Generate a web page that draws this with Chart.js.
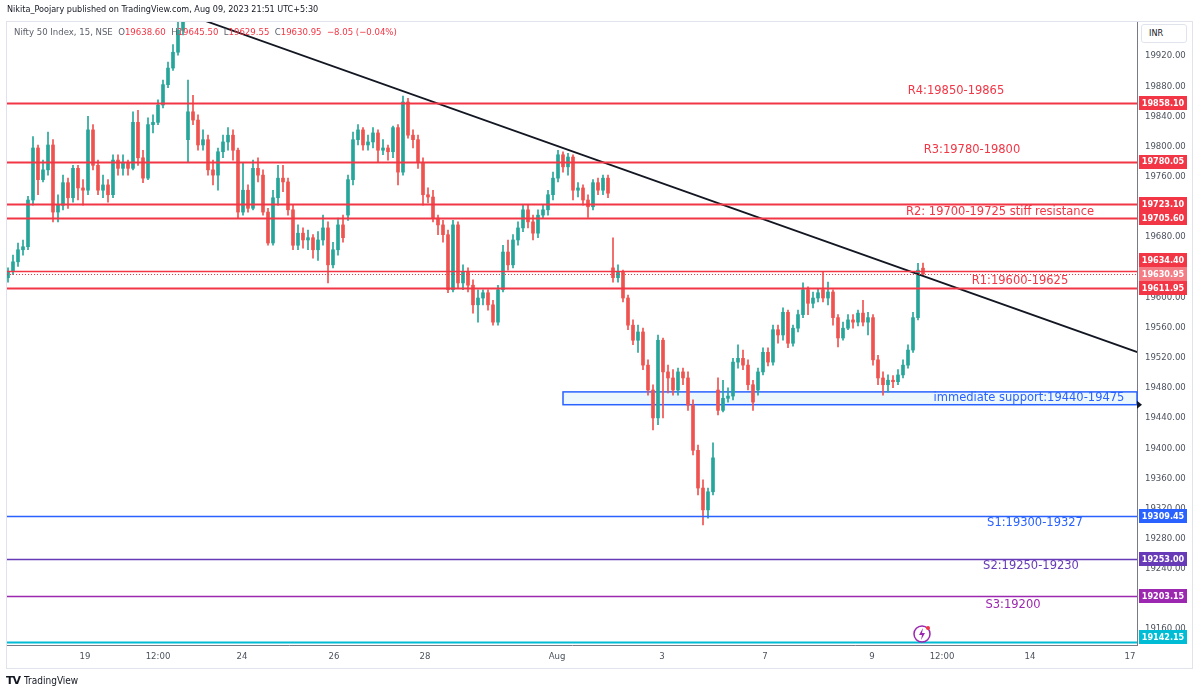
<!DOCTYPE html>
<html>
<head>
<meta charset="utf-8">
<script src="https://cdn.jsdelivr.net/npm/chart.js@4.4.0/dist/chart.umd.min.js"></script>
<style>
html, body { margin: 0; padding: 0; background: #fff; }
#wrap { position: relative; width: 1200px; height: 694px; overflow: hidden; font-family: 'DejaVu Sans Condensed', 'Liberation Sans', sans-serif; }
#frame { position: absolute; left: 6px; top: 21px; width: 1187px; height: 648px; border: 1px solid #e0e3eb; box-sizing: border-box; }
canvas { position: absolute; left: 0; top: 0; }
#pub { position: absolute; left: 7px; top: 4px; font-size: 9px; color: #131722; white-space: nowrap; }
#legend { position: absolute; left: 14px; top: 26px; font-size: 9.5px; color: #5d606b; white-space: nowrap; }
#legend .v { color: #f23645; }
#inr { position: absolute; left: 1141px; top: 24px; width: 46px; height: 19px; border: 1px solid #e0e3eb; border-radius: 3px; box-sizing: border-box; font-size: 9px; color: #131722; line-height: 17px; padding-left: 7px; background: #fff; }
#foot { position: absolute; left: 6px; top: 674px; font-size: 10px; color: #131722; white-space: nowrap; }
#foot b { font-family: 'DejaVu Sans', sans-serif; font-size: 11px; letter-spacing: -1px; margin-right: 4px; }
#bolt { position: absolute; left: 912px; top: 623px; }
</style>
</head>
<body>
<div id="wrap">
  <div id="frame"></div>
  <canvas id="chart" width="1200" height="694"></canvas>
  <div id="pub">Nikita_Poojary published on TradingView.com, Aug 09, 2023 21:51 UTC+5:30</div>
  <div id="legend">Nifty 50 Index, 15, NSE &nbsp;O<span class="v">19638.60</span> &nbsp;H<span class="v">19645.50</span> &nbsp;L<span class="v">19629.55</span> &nbsp;C<span class="v">19630.95</span> &nbsp;<span class="v">−8.05 (−0.04%)</span></div>
  <div id="inr">INR</div>
  <svg id="bolt" width="22" height="22" viewBox="0 0 22 22">
    <circle cx="10" cy="11" r="8" fill="none" stroke="#9c27b0" stroke-width="1.5"/>
    <path d="M11 5 L7 12 L10 12 L9 17 L13 10 L10 10 Z" fill="#9c27b0"/>
    <circle cx="16" cy="5" r="2" fill="#f23645"/>
  </svg>
  <div id="foot"><b>TV</b>TradingView</div>
</div>
<script>
// === ДАННЫЕ: свечи Nifty 50, 15 мин (по одной свече на ~5 px исходника) ===
const opens = [
  19626,19634,19647,19663,19667,19729,19798,19756,19769,19802,19713,19722,19752,19732,19771,19745,
  19742,19822,19775,19742,19749,19736,19782,19771,19779,19771,19832,19785,19758,19829,19832,19855,
  19882,19904,19925,19954,19809,19846,19835,19802,19809,19769,19762,19793,19806,19815,19795,19713,
  19742,19718,19771,19762,19713,19672,19732,19758,19753,19716,19669,19685,19676,19679,19663,19676,
  19692,19643,19663,19696,19709,19756,19809,19822,19802,19806,19818,19795,19798,19793,19825,19766,
  19859,19815,19809,19779,19736,19733,19705,19696,19683,19610,19696,19619,19634,19616,19590,19599,
  19606,19590,19567,19610,19660,19643,19676,19692,19716,19700,19685,19709,19716,19736,19758,19789,
  19773,19786,19742,19745,19729,19720,19752,19742,19758,19639,19626,19634,19599,19563,19543,19554,
  19510,19477,19440,19543,19501,19493,19477,19501,19493,19457,19397,19347,19318,19342,19477,19450,
  19466,19469,19514,19519,19510,19484,19477,19501,19527,19514,19557,19550,19580,19539,19559,19577,
  19610,19592,19599,19610,19599,19607,19573,19546,19559,19570,19567,19579,19567,19573,19517,19493,
  19484,19490,19488,19497,19510,19530,19573,19638.60
];
const highs = [
  19639,19656,19672,19676,19734,19813,19802,19782,19819,19809,19736,19762,19758,19775,19775,19756,
  19840,19829,19782,19762,19756,19789,19789,19789,19782,19846,19848,19795,19838,19842,19862,19888,
  19912,19935,19965,19990,19888,19868,19842,19822,19815,19782,19798,19815,19825,19822,19798,19779,
  19749,19782,19785,19769,19718,19742,19775,19775,19758,19722,19696,19692,19689,19683,19687,19709,
  19700,19673,19705,19709,19762,19819,19829,19825,19815,19825,19822,19809,19802,19827,19829,19867,
  19864,19822,19815,19785,19745,19742,19709,19702,19689,19702,19700,19643,19639,19623,19610,19610,
  19610,19596,19616,19669,19676,19683,19700,19722,19722,19709,19716,19722,19742,19766,19795,19793,
  19791,19789,19752,19749,19736,19756,19758,19762,19762,19679,19643,19636,19603,19570,19563,19559,
  19517,19484,19550,19546,19510,19504,19506,19506,19501,19464,19404,19358,19347,19407,19493,19490,
  19480,19519,19537,19530,19517,19490,19506,19533,19533,19563,19563,19586,19583,19563,19583,19619,
  19614,19607,19612,19634.40,19620,19610,19577,19567,19577,19577,19583,19596,19580,19577,19523,19501,
  19497,19496,19504,19517,19537,19580,19645,19645.50
];
const lows = [
  19620,19630,19641,19656,19663,19722,19736,19753,19762,19700,19700,19716,19718,19726,19729,19722,
  19736,19769,19736,19732,19726,19732,19762,19762,19762,19769,19775,19752,19756,19818,19829,19851,
  19878,19901,19921,19948,19779,19829,19795,19795,19762,19749,19742,19785,19795,19782,19705,19709,
  19713,19716,19753,19709,19669,19669,19722,19740,19709,19663,19663,19665,19663,19652,19649,19669,
  19619,19639,19656,19673,19702,19749,19802,19795,19795,19798,19779,19789,19782,19785,19749,19762,
  19811,19798,19771,19722,19725,19700,19683,19673,19606,19607,19612,19610,19607,19579,19567,19590,
  19583,19563,19563,19607,19636,19639,19669,19687,19692,19676,19679,19705,19709,19729,19753,19766,
  19762,19729,19733,19722,19706,19716,19736,19736,19732,19620,19620,19594,19557,19537,19527,19504,
  19470,19424,19431,19440,19473,19470,19470,19484,19450,19391,19338,19298,19307,19338,19444,19448,
  19461,19464,19506,19504,19477,19450,19470,19497,19509,19510,19539,19543,19533,19535,19554,19573,
  19577,19586,19594,19594,19590,19563,19534,19543,19557,19559,19562,19562,19550,19510,19484,19470,
  19474,19480,19484,19493,19506,19527,19570,19629.55
];
const closes = [
  19634,19647,19663,19667,19729,19798,19756,19769,19802,19713,19722,19752,19732,19771,19745,19742,
  19822,19775,19742,19749,19736,19782,19771,19779,19771,19832,19785,19758,19829,19832,19855,19882,
  19904,19925,19954,19968,19846,19835,19802,19809,19769,19762,19793,19806,19815,19795,19713,19742,
  19718,19771,19762,19713,19672,19732,19758,19753,19716,19669,19685,19676,19679,19663,19676,19692,
  19643,19663,19696,19679,19756,19809,19822,19802,19806,19818,19795,19798,19793,19825,19766,19859,
  19815,19809,19779,19736,19733,19705,19696,19683,19610,19696,19619,19634,19616,19590,19599,19606,
  19590,19567,19610,19660,19643,19676,19692,19716,19700,19685,19709,19716,19736,19758,19789,19773,
  19786,19742,19745,19729,19720,19752,19742,19758,19738,19626,19634,19599,19563,19543,19554,19510,
  19477,19440,19543,19501,19493,19477,19501,19493,19457,19397,19347,19318,19342,19387,19450,19466,
  19469,19514,19519,19510,19484,19461,19501,19527,19514,19557,19550,19580,19539,19559,19577,19610,
  19592,19599,19606,19599,19607,19573,19546,19559,19570,19567,19579,19567,19573,19517,19493,19484,
  19490,19488,19497,19510,19530,19573,19636,19630.95
];

// подписи оси X (позиция в номерах свечей) и шкала цен
const xTickPos = [15.4, 30, 46.8, 65.2, 83.4, 109.8, 130.8, 151.4, 172.8, 186.8, 204.4, 224.4];
const xTickLabels = ['19', '12:00', '24', '26', '28', 'Aug', '3', '7', '9', '12:00', '14', '17'];
const yTicks = [19160, 19200, 19240, 19280, 19320, 19360, 19400, 19440, 19480, 19520, 19560, 19600,
                19640, 19680, 19720, 19760, 19800, 19840, 19880, 19920];

// уровни, нарисованные автором
const levelPrices = [19858.10, 19780.05, 19723.10, 19705.60, 19634.40, 19611.95, 19309.45, 19253.00, 19203.15, 19142.15];
const lastPrice = 19630.95;
const trendLine = [{ x: 38, y: 19970 }, { x: 226, y: 19527 }];
const supportFrom = 111, supportTop = 19474.5, supportBottom = 19457.5;

const zoneLabels = ['R4:19850-19865', 'R3:19780-19800', 'R2: 19700-19725 stiff resistance', 'R1:19600-19625',
                    'immediate support:19440-19475', 'S1:19300-19327', 'S2:19250-19230', 'S3:19200'];
const zoneAt = [189.6, 192.8, 198.4, 202.4, 204.2, 205.4, 204.6, 201];
const zonePrice = [19873.6, 19795.4, 19713.1, 19621.6, 19466.4, 19300.6, 19243.6, 19192.0];

// === СТИЛИ ===
const GREEN = '#26a69a';
const RED = '#ef5350';
const LVL_RED = '#f23645';
const BLUE = '#2962ff';
const levelColors = [LVL_RED, LVL_RED, LVL_RED, LVL_RED, LVL_RED, LVL_RED, BLUE, '#673ab7', '#9c27b0', '#00bcd4'];
const levelWidths = [2, 2, 2, 2, 1.5, 2, 1.5, 1.5, 1.5, 2];
const zoneColors = [LVL_RED, LVL_RED, LVL_RED, LVL_RED, BLUE, BLUE, '#673ab7', '#9c27b0'];
const AXIS_FONT = "'DejaVu Sans Condensed', 'Liberation Sans', sans-serif";

const candleColor = ctx => (ctx.dataIndex === undefined ? GREEN :
  (closes[ctx.dataIndex] >= opens[ctx.dataIndex] ? GREEN : RED));
const idx = closes.map((_, i) => i);

// === РИСОВАНИЕ УРОВНЕЙ, ЗОНЫ, ПОДПИСЕЙ И ПЛАШЕК ===
const overlay = {
  id: 'overlay',
  beforeDatasetsDraw(chart) {
    const { ctx, chartArea: a, scales: { x, y } } = chart;
    const x0 = x.getPixelForValue(supportFrom);
    const y0 = y.getPixelForValue(supportTop);
    const y1 = y.getPixelForValue(supportBottom);
    ctx.save();
    ctx.fillStyle = 'rgba(0,160,230,0.07)';
    ctx.fillRect(x0, y0, a.right - x0, y1 - y0);
    ctx.strokeStyle = BLUE;
    ctx.lineWidth = 1.5;
    ctx.strokeRect(x0, y0, a.right - x0, y1 - y0);
    ctx.restore();
  },
  afterDatasetsDraw(chart) {
    const { ctx, chartArea: a, scales: { x, y } } = chart;
    ctx.save();
    levelPrices.forEach((p, i) => {
      const py = Math.round(y.getPixelForValue(p)) + 0.5;
      ctx.strokeStyle = levelColors[i];
      ctx.lineWidth = levelWidths[i];
      ctx.beginPath();
      ctx.moveTo(a.left, py);
      ctx.lineTo(a.right, py);
      ctx.stroke();
    });
    // линия текущей цены
    const cy = Math.round(y.getPixelForValue(lastPrice)) + 0.5;
    ctx.strokeStyle = LVL_RED;
    ctx.lineWidth = 1;
    ctx.setLineDash([1, 2]);
    ctx.beginPath();
    ctx.moveTo(a.left, cy);
    ctx.lineTo(a.right, cy);
    ctx.stroke();
    ctx.setLineDash([]);

    ctx.font = "11.5px 'DejaVu Sans', sans-serif";
    ctx.textAlign = 'center';
    ctx.textBaseline = 'middle';
    zoneLabels.forEach((t, i) => {
      ctx.fillStyle = zoneColors[i];
      ctx.fillText(t, x.getPixelForValue(zoneAt[i]), y.getPixelForValue(zonePrice[i]));
    });
    ctx.restore();
  },
  afterDraw(chart) {
    const { ctx, chartArea: a, scales: { y } } = chart;
    const left = a.right + 2, w = 48, h = 14;
    const badges = [{ p: lastPrice, c: '#f47c84' }].concat(levelPrices.map((p, i) => ({ p, c: levelColors[i] })));
    const placed = [];
    badges.forEach(b => {
      let py = y.getPixelForValue(b.p);
      py = Math.min(Math.max(py, a.top + h / 2), a.bottom - h / 2 - 1);
      placed.forEach(q => {
        if (Math.abs(py - q) < h) py = py < q ? q - h : q + h;
      });
      placed.push(py);
      b.y = py;
    });
    ctx.save();
    ctx.font = "bold 9px " + AXIS_FONT;
    ctx.textAlign = 'center';
    ctx.textBaseline = 'middle';
    badges.slice().reverse().forEach(b => {
      ctx.fillStyle = b.c;
      ctx.fillRect(left, Math.round(b.y - h / 2), w, h);
      ctx.fillStyle = '#fff';
      ctx.fillText(b.p.toFixed(2), left + w / 2, b.y + 0.5);
    });
    // маркер нижней границы зоны поддержки
    const ty = y.getPixelForValue(supportBottom);
    ctx.fillStyle = '#131722';
    ctx.beginPath();
    ctx.moveTo(a.right, ty - 4);
    ctx.lineTo(a.right + 5, ty);
    ctx.lineTo(a.right, ty + 4);
    ctx.closePath();
    ctx.fill();
    ctx.restore();
  }
};

// === ГРАФИК ===
new Chart(document.getElementById('chart'), {
  type: 'bar',
  data: {
    datasets: [
      {
        label: 'trend',
        type: 'line',
        data: trendLine,
        borderColor: '#131722',
        borderWidth: 1.8,
        pointRadius: 0,
        order: 0
      },
      {
        label: 'body',
        data: idx.map(i => ({ x: i, y: [Math.min(opens[i], closes[i]), Math.max(opens[i], closes[i])] })),
        backgroundColor: candleColor,
        barThickness: 3,
        minBarLength: 1,
        grouped: false,
        order: 1
      },
      {
        label: 'wick',
        data: idx.map(i => ({ x: i, y: [lows[i], highs[i]] })),
        backgroundColor: candleColor,
        barThickness: 1,
        grouped: false,
        order: 2
      }
    ]
  },
  options: {
    responsive: false,
    animation: false,
    layout: { padding: { left: 7, top: 22, right: 8, bottom: 26 } },
    plugins: { legend: { display: false }, tooltip: { enabled: false } },
    scales: {
      x: {
        type: 'linear',
        min: -0.2,
        max: 225.8,
        offset: false,
        grid: { display: false, offset: false, tickLength: 0 },
        border: { display: true, color: '#787b86' },
        afterBuildTicks: s => { s.ticks = xTickPos.map(v => ({ value: v })); },
        afterFit: s => { s.height = 23; },
        ticks: {
          autoSkip: false, maxRotation: 0, padding: 6, color: '#4c525e',
          font: { family: AXIS_FONT, size: 9.5 },
          callback: (v, i) => xTickLabels[i]
        }
      },
      y: {
        type: 'linear',
        position: 'right',
        min: 19138.8,
        max: 19965.1,
        grid: { display: false, tickLength: 0 },
        border: { display: true, color: '#787b86' },
        afterBuildTicks: s => { s.ticks = yTicks.map(v => ({ value: v })); },
        afterFit: s => { s.width = 55; },
        ticks: {
          padding: 8, color: '#4c525e',
          font: { family: AXIS_FONT, size: 9.5 },
          callback: v => v.toFixed(2)
        }
      }
    }
  },
  plugins: [overlay]
});
</script>
</body>
</html>
